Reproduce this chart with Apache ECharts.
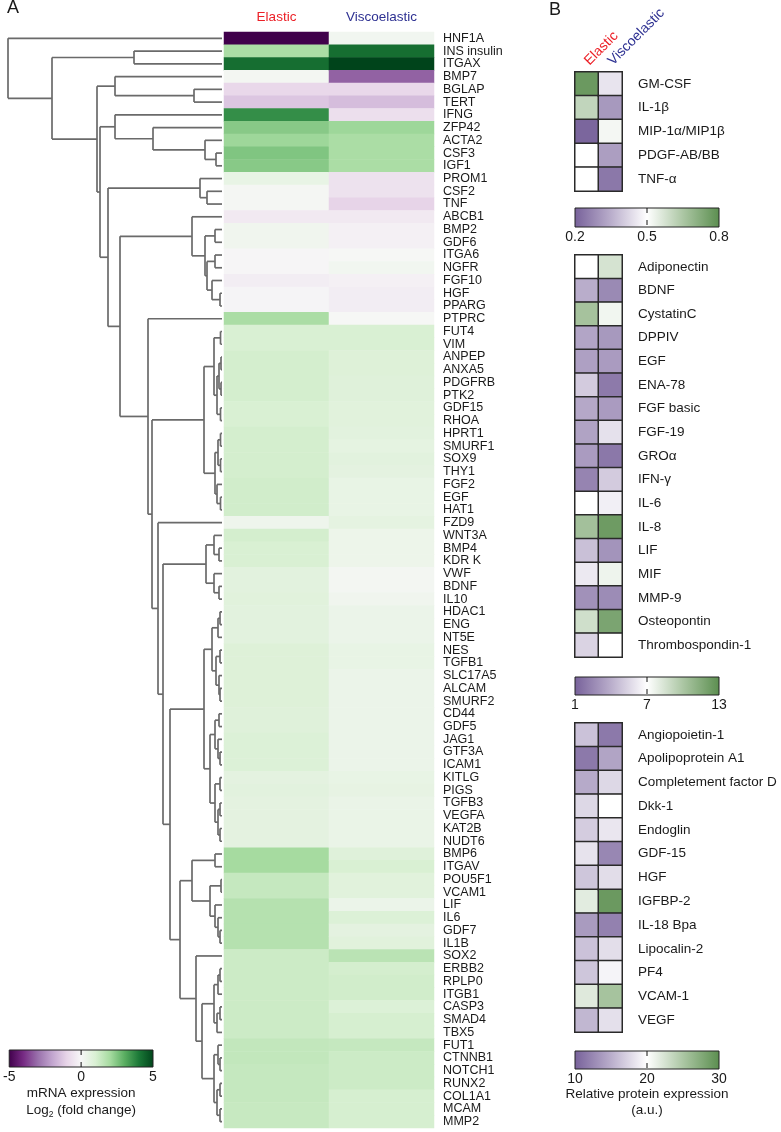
<!DOCTYPE html>
<html><head><meta charset="utf-8">
<script src="https://cdn.jsdelivr.net/npm/echarts@6/dist/echarts.min.js"></script>
<style>html,body{margin:0;padding:0;background:#fff}#c{width:781px;height:1132px}</style>
</head><body><div id="c"></div>
<script>
const FONT = 'Liberation Sans, Arial, Helvetica, sans-serif';

// ---------- Panel A data ----------
const conditions = ['Elastic', 'Viscoelastic'];
const conditionColors = ['#ec2027', '#2e3192'];
const genes = ['HNF1A','INS insulin','ITGAX','BMP7','BGLAP','TERT','IFNG','ZFP42','ACTA2','CSF3','IGF1','PROM1','CSF2','TNF','ABCB1','BMP2','GDF6','ITGA6','NGFR','FGF10','HGF','PPARG','PTPRC','FUT4','VIM','ANPEP','ANXA5','PDGFRB','PTK2','GDF15','RHOA','HPRT1','SMURF1','SOX9','THY1','FGF2','EGF','HAT1','FZD9','WNT3A','BMP4','KDR K','VWF','BDNF','IL10','HDAC1','ENG','NT5E','NES','TGFB1','SLC17A5','ALCAM','SMURF2','CD44','GDF5','JAG1','GTF3A','ICAM1','KITLG','PIGS','TGFB3','VEGFA','KAT2B','NUDT6','BMP6','ITGAV','POU5F1','VCAM1','LIF','IL6','GDF7','IL1B','SOX2','ERBB2','RPLP0','ITGB1','CASP3','SMAD4','TBX5','FUT1','CTNNB1','NOTCH1','RUNX2','COL1A1','MCAM','MMP2'];
const elasticLog2 = [-5,1.9,4.2,0.15,-0.9,-1.3,3.6,2.4,2.1,2.5,2.4,0.5,0.1,0.1,-0.4,0.25,0.25,-0.05,-0.05,-0.3,-0.1,-0.1,1.9,1.0,1.0,1.1,1.1,1.1,1.1,1.0,1.0,1.1,1.1,1.1,1.1,1.15,1.15,1.15,0.3,1.1,1.0,1.0,0.7,0.7,0.75,0.7,0.7,0.7,0.85,0.85,0.85,0.85,0.85,0.8,0.8,0.9,0.9,0.9,0.65,0.7,0.65,0.65,0.65,0.65,2.0,2.0,1.4,1.4,1.7,1.7,1.7,1.7,1.25,1.25,1.25,1.25,1.25,1.25,1.25,1.45,1.45,1.4,1.4,1.4,1.35,1.35];
const viscoLog2 = [0.2,4.2,5,-3.2,-0.9,-1.5,-0.7,2.1,1.9,1.9,1.9,-0.6,-0.6,-1.0,-0.4,-0.2,-0.2,0.05,0.2,-0.2,-0.3,-0.3,0.05,1.0,1.0,0.85,0.85,0.8,0.8,0.75,0.75,0.7,0.6,0.7,0.65,0.5,0.5,0.5,0.6,0.35,0.35,0.35,0.15,0.15,0.25,0.4,0.4,0.4,0.5,0.5,0.4,0.4,0.4,0.4,0.4,0.4,0.4,0.4,0.5,0.55,0.45,0.45,0.45,0.45,0.8,1.0,0.75,0.75,0.4,0.9,0.65,0.75,1.6,1.1,1.15,1.15,0.9,1.05,1.05,1.4,1.25,1.25,1.25,1.05,1.05,1.05];
const mrnaTicks = [-5, 0, 5];

// dendrogram: [mergeDistance, left, right]; numbers = row index of genes
const F_ = [69, 7, [17, 8, [6, 9, 10]]];
const E_ = [107, 6, F_];
const P_ = [22, 11, [15, 12, 13]];
const B_ = [30, 14, [17, [7, 15, 16], [15, [7, 17, 18], [10, 19, [2, 20, 21]]]]];
const T1 = [8, [1.5, 23, 24], [5, [3, [1, 25, 26], [1, 27, 28]], [1.5, 29, 30]]];
const T2 = [7, [4, [1.5, 31, 32], [1.5, 33, 34]], [5, 35, [1.5, 36, 37]]];
const T3 = [16, [8, 39, [3, 40, 41]], [8, 42, [3, 43, 44]]];
const T4 = [10, [4, [2, 45, 46], 47], [6, [2, 48, 49], [3, 50, [2, 51, 52]]]];
const T5 = [7, [3, 53, 54], [4, 55, [2, 56, 57]]];
const T6 = [7, [2, 58, 59], [4, [2, 60, 61], [2, 62, 63]]];
const Q_ = [30, [7, 64, 65], [12, [1, 66, 67], [7, 68, [4, 69, [2, 70, 71]]]]];
const R1 = [8, [4, [2, 73, 74], 75], [5, [2, 76, 77], 78]];
const R2 = [8, [4, 79, [2, 80, 81]], [5, [2, 82, 83], [2, 84, 85]]];
const R_ = [26, 72, [20, R1, R2]];
const BIG5 = [42, Q_, R_];
const BIG4 = [52, [18, T4, [12, T5, T6]], BIG5];
const BIG3 = [59, T3, BIG4];
const BIG2 = [64, 38, BIG3];
const BIG = [70, [18, T1, T2], BIG2];
const G3 = [74, 22, BIG];
const G2 = [102, B_, G3];
const G_ = [114, P_, G2];
const N3 = [122, E_, G_];
const N2 = [125, [107, 3, [28, 4, 5]], N3];
const TREE = [214, 0, [170, [88, 1, 2], N2]];

// ---------- Panel B data ----------
const proteins1 = ['GM-CSF','IL-1β','MIP-1α/MIP1β','PDGF-AB/BB','TNF-α'];
const elastic1 = [0.77,0.61,0.21,0.5,0.5];
const visco1 = [0.45,0.31,0.52,0.32,0.245];
const ticks1 = [0.2, 0.5, 0.8];

const proteins2 = ['Adiponectin','BDNF','CystatinC','DPPIV','EGF','ENA-78','FGF basic','FGF-19','GROα','IFN-γ','IL-6','IL-8','LIF','MIF','MMP-9','Osteopontin','Thrombospondin-1'];
const elastic2 = [7,4.0,10.2,3.7,3.5,5.1,3.8,3.6,3.3,2.4,7,10.3,4.7,6.2,2.9,8.7,5.4];
const visco2 = [8.5,2.6,7.5,3.2,3.3,2.0,3.3,5.9,1.9,5.1,6.4,12.3,3.0,7.6,2.7,11.8,7];
const ticks2 = [1, 7, 13];

const proteins3 = ['Angiopoietin-1','Apolipoprotein A1','Completement factor D','Dkk-1','Endoglin','GDF-15','HGF','IGFBP-2','IL-18 Bpa','Lipocalin-2','PF4','VCAM-1','VEGF'];
const elastic3 = [16.3,11.6,14.8,17.6,16.9,18.3,16.5,21.7,13.8,16.3,16.5,21.9,15.6];
const visco3 = [11.6,14.4,17.6,20,18.5,12.5,17.9,29,12.1,18,19.3,25.3,18.1];
const ticks3 = [10, 20, 30];

// ---------- colour maps ----------
const PRGN = ['#40004b','#762a83','#9970ab','#c2a5cf','#e7d4e8','#f7f7f7','#d9f0d3','#a6dba0','#5aae61','#1b7837','#00441b'];
const PROT = ['#77619a','#b9adcb','#ffffff','#abc6a3','#5b8e4f'];

// ---------- build ----------
const dendroSegs = [];
function buildDendro(node) {
  if (typeof node === 'number') return { d: 0, y: node + 0.5 };
  const a = buildDendro(node[1]), b = buildDendro(node[2]), h = node[0];
  dendroSegs.push([a.d, a.y, h, a.y]);
  dendroSegs.push([h, a.y, h, b.y]);
  dendroSegs.push([b.d, b.y, h, b.y]);
  return { d: h, y: (a.y + b.y) / 2 };
}
buildDendro(TREE);

function heatData(e, v) {
  const out = [];
  e.forEach((val, i) => out.push([0, i, val]));
  v.forEach((val, i) => out.push([1, i, val]));
  return out;
}
function gradient(colors) {
  return new echarts.graphic.LinearGradient(0, 0, 1, 0,
    colors.map((c, i) => ({ offset: i / (colors.length - 1), color: c })));
}

const grids = [
  { left: 8, top: 32, width: 214, height: 1096 },     // 0 dendrogram
  { left: 224, top: 32, width: 210, height: 1096 },   // 1 heatmap A
  { left: 7, top: 1050, width: 146, height: 17 },     // 2 cbar A
  { left: 575, top: 72, width: 47, height: 119 },     // 3 B1
  { left: 575, top: 208, width: 144, height: 19 },    // 4 cbar B1
  { left: 575, top: 255, width: 47, height: 402 },    // 5 B2
  { left: 575, top: 677, width: 144, height: 18 },    // 6 cbar B2
  { left: 575, top: 723, width: 47, height: 309 },    // 7 B3
  { left: 575, top: 1051, width: 144, height: 18 }    // 8 cbar B3
];

const hidden = { show: false };
const xAxes = [], yAxes = [];
xAxes.push({ gridIndex: 0, type: 'value', min: 0, max: 214, inverse: true, show: false });
yAxes.push({ gridIndex: 0, type: 'value', min: 0, max: genes.length, inverse: true, show: false });
xAxes.push({ gridIndex: 1, type: 'category', data: conditions, position: 'top',
  axisLine: hidden, axisTick: hidden, splitLine: hidden,
  axisLabel: { margin: 8, interval: 0, fontFamily: FONT, fontSize: 13.5, color: (v, i) => conditionColors[i] } });
yAxes.push({ gridIndex: 1, type: 'category', data: genes, inverse: true, position: 'right',
  axisLine: hidden, axisTick: hidden, splitLine: hidden,
  axisLabel: { margin: 9, fontFamily: FONT, fontSize: 12.5, color: '#1a1a1a', interval: 0 } });
function cbarAxes(gi, min, max, ticks, name, nameGap, lh) {
  xAxes.push({ gridIndex: gi, type: 'value', min: min, max: max,
    axisLine: hidden, axisTick: hidden, splitLine: hidden,
    axisLabel: { customValues: ticks, margin: 3, fontFamily: FONT, fontSize: 14, color: '#1a1a1a', showMinLabel: true, showMaxLabel: true },
    name: name || '', nameLocation: 'middle', nameGap: nameGap || 0,
    nameTextStyle: { fontFamily: FONT, fontSize: 13.5, color: '#1a1a1a', lineHeight: lh || 16, align: 'center',
      rich: { sub: { fontFamily: FONT, fontSize: 8.5, verticalAlign: 'bottom', lineHeight: lh || 16 } } } });
  yAxes.push({ gridIndex: gi, type: 'value', min: 0, max: 1, show: false });
}
cbarAxes(2, -5, 5, mrnaTicks, 'mRNA expression\nLog{sub|2} (fold change)', 17, 17);
xAxes.push({ gridIndex: 3, type: 'category', data: conditions, position: 'top',
  axisLine: hidden, axisTick: hidden, splitLine: hidden,
  axisLabel: { rotate: -45, interval: 0, hideOverlap: false, margin: 9, fontFamily: FONT, fontSize: 14, color: (v, i) => conditionColors[i] } });
yAxes.push({ gridIndex: 3, type: 'category', data: proteins1, inverse: true, position: 'right',
  axisLine: hidden, axisTick: hidden, axisLabel: { margin: 16, fontFamily: FONT, fontSize: 13.5, color: '#1a1a1a', interval: 0 } });
cbarAxes(4, 0.2, 0.8, ticks1);
xAxes.push({ gridIndex: 5, type: 'category', data: conditions, show: false });
yAxes.push({ gridIndex: 5, type: 'category', data: proteins2, inverse: true, position: 'right',
  axisLine: hidden, axisTick: hidden, axisLabel: { margin: 16, fontFamily: FONT, fontSize: 13.5, color: '#1a1a1a', interval: 0 } });
cbarAxes(6, 1, 13, ticks2);
xAxes.push({ gridIndex: 7, type: 'category', data: conditions, show: false });
yAxes.push({ gridIndex: 7, type: 'category', data: proteins3, inverse: true, position: 'right',
  axisLine: hidden, axisTick: hidden, axisLabel: { margin: 16, fontFamily: FONT, fontSize: 13.5, color: '#1a1a1a', interval: 0 } });
cbarAxes(8, 10, 30, ticks3, 'Relative protein expression\n(a.u.)', 16, 15.5);

function cbarSeries(axisIdx, min, max, colors) {
  const mid = (min + max) / 2;
  return {
    type: 'custom', xAxisIndex: axisIdx, yAxisIndex: axisIdx, silent: true,
    data: [[min, max, mid]],
    encode: { x: [0, 1] },
    renderItem: function (params, api) {
      const p0 = api.coord([api.value(0), 1]);
      const p1 = api.coord([api.value(1), 0]);
      const pm0 = api.coord([api.value(2), 1]);
      const pm1 = api.coord([api.value(2), 0]);
      return { type: 'group', children: [
        { type: 'rect', shape: { x: p0[0], y: p0[1], width: p1[0] - p0[0], height: p1[1] - p0[1] },
          style: { fill: gradient(colors), stroke: '#222', lineWidth: 1 } },
        { type: 'line', shape: { x1: pm0[0], y1: pm0[1], x2: pm1[0], y2: pm1[1] },
          style: { stroke: '#111', lineWidth: 1, lineDash: [5, 7] } }
      ] };
    }
  };
}
function heatSeries(axisIdx, data, border) {
  return { type: 'heatmap', xAxisIndex: axisIdx, yAxisIndex: axisIdx, data: data,
    itemStyle: border ? { borderColor: '#2a2a2a', borderWidth: 1.5 } : { borderWidth: 0 },
    emphasis: { disabled: true } };
}

const series = [
  { type: 'custom', xAxisIndex: 0, yAxisIndex: 0, silent: true, data: dendroSegs,
    encode: { x: [0, 2], y: [1, 3] },
    renderItem: function (params, api) {
      const a = api.coord([api.value(0), api.value(1)]);
      const b = api.coord([api.value(2), api.value(3)]);
      return { type: 'line', shape: { x1: a[0], y1: a[1], x2: b[0], y2: b[1] },
        style: { stroke: '#6a6a6a', lineWidth: 1.7 } };
    } },
  heatSeries(1, heatData(elasticLog2, viscoLog2), false),
  cbarSeries(2, -5, 5, PRGN),
  heatSeries(3, heatData(elastic1, visco1), true),
  cbarSeries(4, 0.2, 0.8, PROT),
  heatSeries(5, heatData(elastic2, visco2), true),
  cbarSeries(6, 1, 13, PROT),
  heatSeries(7, heatData(elastic3, visco3), true),
  cbarSeries(8, 10, 30, PROT)
];

const option = {
  backgroundColor: '#fff',
  animation: false,
  textStyle: { fontFamily: FONT },
  grid: grids,
  xAxis: xAxes,
  yAxis: yAxes,
  visualMap: [
    { type: 'continuous', show: false, seriesIndex: 1, min: -5, max: 5, dimension: 2, inRange: { color: PRGN } },
    { type: 'continuous', show: false, seriesIndex: 3, min: 0.2, max: 0.8, dimension: 2, inRange: { color: PROT } },
    { type: 'continuous', show: false, seriesIndex: 5, min: 1, max: 13, dimension: 2, inRange: { color: PROT } },
    { type: 'continuous', show: false, seriesIndex: 7, min: 10, max: 30, dimension: 2, inRange: { color: PROT } }
  ],
  graphic: [
    { type: 'text', left: 7, top: -1, style: { text: 'A', fontFamily: FONT, fontSize: 18, fill: '#1a1a1a' } },
    { type: 'text', left: 549, top: 1, style: { text: 'B', fontFamily: FONT, fontSize: 18, fill: '#1a1a1a' } }
  ],
  series: series
};
const chart = echarts.init(document.getElementById('c'), null, { width: 781, height: 1132 });
chart.setOption(option);
</script></body></html>
